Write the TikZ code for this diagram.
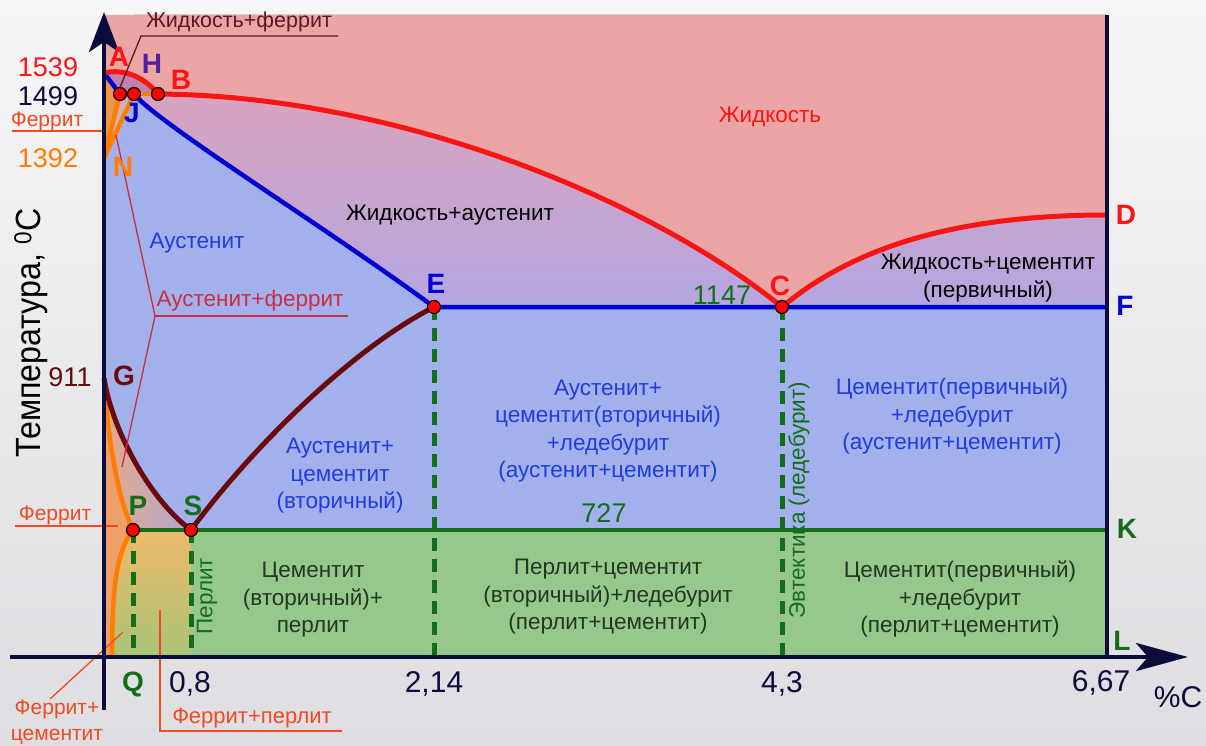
\documentclass[tikz,border=0pt]{standalone}
\usepackage{fontspec}
\setmainfont{Liberation Sans}
\usetikzlibrary{arrows.meta}
\definecolor{bgtop}{RGB}{246,246,247}
\definecolor{bgbot}{RGB}{222,222,226}
\definecolor{axisc}{RGB}{12,12,60}
\definecolor{liqred}{RGB}{250,20,20}
\definecolor{solblue}{RGB}{0,0,210}
\definecolor{maroonc}{RGB}{105,10,15}
\definecolor{dgreen}{RGB}{20,110,25}
\definecolor{orangeL}{RGB}{255,125,0}
\definecolor{pinkR}{RGB}{236,165,165}
\definecolor{blueR}{RGB}{162,176,235}
\definecolor{greenR}{RGB}{150,200,140}
\definecolor{mixtop}{RGB}{230,162,178}
\definecolor{mixbot}{RGB}{180,166,224}
\definecolor{fpTop}{RGB}{238,186,105}
\definecolor{fpBot}{RGB}{168,196,120}
\definecolor{agL}{RGB}{228,170,135}
\definecolor{agR}{RGB}{175,166,212}
\definecolor{ferrC}{RGB}{238,160,105}
\definecolor{deltaC}{RGB}{240,150,70}
\definecolor{hjnC}{RGB}{205,180,185}
\definecolor{lfC}{RGB}{190,130,172}
\definecolor{txtblue}{RGB}{35,60,225}
\definecolor{txtdark}{RGB}{35,55,35}
\definecolor{txtred}{RGB}{240,75,35}
\definecolor{afred}{RGB}{205,45,65}
\definecolor{lfmaroon}{RGB}{100,20,40}
\definecolor{hpurple}{RGB}{85,30,160}
\begin{document}
\begin{tikzpicture}[x=1pt,y=-1pt,
  txt/.style={font=\fontsize{22.5}{27.5}\selectfont, align=center, inner sep=0pt},
  stxt/.style={font=\fontsize{21}{26}\selectfont, align=center, inner sep=0pt},
  lbl/.style={font=\fontsize{28}{30}\selectfont\bfseries, inner sep=0pt},
  num/.style={font=\fontsize{27}{30}\selectfont, inner sep=0pt},
  axnum/.style={font=\fontsize{30}{32}\selectfont, inner sep=0pt, text=axisc},
  ornL/.style={draw=orangeL, line width=4.5pt},
  bluL/.style={draw=solblue, line width=4.5pt},
  redL/.style={draw=liqred, line width=5pt},
  marL/.style={draw=maroonc, line width=5pt},
  grnL/.style={draw=dgreen, line width=4.5pt},
  dashL/.style={draw=dgreen, line width=5pt, dash pattern=on 13pt off 8pt},
  axisL/.style={draw=axisc, line width=4.5pt},
  leader/.style={line width=1.3pt},
  dot/.style={circle, fill=red, draw=black, line width=1.2pt, minimum size=13pt, inner sep=0pt}
]
\useasboundingbox (0,0) rectangle (1206,746);
\fill[top color=bgtop,bottom color=bgbot] (0,0) rectangle (1206,746);

% key points
\coordinate (A) at (104,73);
\coordinate (H) at (120,94);
\coordinate (J) at (134,94);
\coordinate (B) at (158,94);
\coordinate (N) at (104,158);
\coordinate (E) at (434,307);
\coordinate (C) at (782,307);
\coordinate (D) at (1107,215);
\coordinate (F) at (1107,307);
\coordinate (G) at (104,378);
\coordinate (P) at (133,530);
\coordinate (S) at (191,530);
\coordinate (K) at (1107,530);
\coordinate (L) at (1107,657);
\coordinate (Q) at (112,657);
\coordinate (O) at (104,657);
\coordinate (E0) at (434,657);
\coordinate (C0) at (782,657);
\coordinate (P0) at (133,657);
\coordinate (S0) at (191,657);
\coordinate (TL) at (104,15);
\coordinate (TR) at (1107,15);
\coordinate (G727) at (104,530);

% region fills
\fill[blueR] (TL) rectangle (L);
\fill[top color=mixtop,bottom color=mixbot] (J) .. controls (160,125) and (330,230) .. (E) -- (F) -- (TR) -- (134,15) -- cycle;
\fill[pinkR] (TL) -- (A) .. controls (125,68) and (145,78) .. (B) .. controls (400,96) and (650,200) .. (C) .. controls (850,250) and (950,215) .. (D) -- (TR) -- cycle;
\fill[greenR] (G727) rectangle (L);
\fill[top color=fpTop,bottom color=fpBot] (G727) rectangle (S0);
\fill[left color=agL,right color=agR] (G) .. controls (108,440) and (118,500) .. (P) -- (S) .. controls (150,500) and (112,430) .. (G);
\fill[ferrC] (G) .. controls (108,440) and (118,500) .. (P) .. controls (118,550) and (112,580) .. (Q) -- (O) -- cycle;
\fill[deltaC] (A) -- (H) -- (N) -- cycle;
\fill[hjnC] (H) -- (J) -- (N) -- cycle;
\fill[lfC] (A) .. controls (125,68) and (145,78) .. (B) -- (H) -- cycle;

% phase lines
\draw[ornL] (H) -- (N);
\draw[ornL] (J) -- (N);
\draw[ornL] (H) -- (B);
\draw[ornL] (G) .. controls (108,440) and (118,500) .. (P) .. controls (118,550) and (112,580) .. (Q);
\draw[bluL] (A) -- (H);
\draw[bluL] (J) .. controls (160,125) and (330,230) .. (E) -- (F);
\draw[redL] (A) .. controls (125,68) and (145,78) .. (B) .. controls (400,96) and (650,200) .. (C) .. controls (850,250) and (950,215) .. (D);
\draw[marL] (G) .. controls (112,430) and (150,500) .. (S) .. controls (250,450) and (350,350) .. (E);
\draw[grnL] (P) -- (K);
\draw[dashL] (E) -- (E0);
\draw[dashL] (C) -- (C0);
\draw[dashL] (P) -- (P0);
\draw[dashL] (S) -- (S0);

% leaders
\coordinate (lf1) at (119,90);
\coordinate (lf2) at (141,36);
\coordinate (lf3) at (338,36);
\draw[leader, lfmaroon] (lf1) -- (lf2) -- (lf3);
\coordinate (af1) at (116,135);
\coordinate (af2) at (155,316);
\coordinate (af3) at (122,467);
\coordinate (af4) at (348,316);
\draw[leader, afred] (af1) -- (af2) -- (af3);
\draw[leader, afred] (af2) -- (af4);
\coordinate (fu1) at (12,131);
\coordinate (fu2) at (102,131);
\draw[leader, txtred] (fu1) -- (fu2);
\coordinate (fl1) at (15,526);
\coordinate (fl2) at (118,526);
\draw[leader, txtred] (fl1) -- (fl2);
\coordinate (fc1) at (50,699);
\coordinate (fc2) at (123,632);
\draw[leader, txtred] (fc1) -- (fc2);
\coordinate (fp1) at (160,610);
\coordinate (fp2) at (160,731);
\coordinate (fp3) at (342,731);
\draw[leader, txtred] (fp1) -- (fp2) -- (fp3);

% right border and axes
\draw[axisL] (TR) -- (L);
\coordinate (ybot) at (104,710);
\coordinate (ytop) at (104,12);
\coordinate (xl) at (10,657);
\coordinate (xr) at (1188,657);
\draw[axisL, -{Stealth[length=40pt,width=30pt,inset=10pt]}] (ybot) -- (ytop);
\draw[axisL, -{Stealth[length=52pt,width=28pt,inset=12pt]}] (xl) -- (xr);

% points
\foreach \p in {H,J,B,E,C,P,S} \node[dot] (d\p) at (\p) {};

% point labels
\node[lbl, text=liqred] (lA) at (119,57) {A};
\node[lbl, text=hpurple] (lH) at (152,64) {H};
\node[lbl, text=liqred] (lB) at (181,80) {B};
\node[lbl, text=solblue] (lJ) at (132,113) {J};
\node[lbl, text=orangeL] (lN) at (123,167) {N};
\node[lbl, text=maroonc] (lG) at (124,376) {G};
\node[lbl, text=dgreen] (lP) at (138,506) {P};
\node[lbl, text=dgreen] (lS) at (193,506) {S};
\node[lbl, text=solblue] (lE) at (436,284) {E};
\node[lbl, text=liqred] (lC) at (780,286) {C};
\node[lbl, text=liqred] (lD) at (1126,215) {D};
\node[lbl, text=solblue] (lF) at (1125,306) {F};
\node[lbl, text=dgreen] (lK) at (1127,529) {K};
\node[lbl, text=dgreen] (lL) at (1122,641) {L};
\node[lbl, text=dgreen] (lQ) at (133,684) {Q};

% temperatures
\node[num, text=liqred] (t1539) at (48,67) {1539};
\node[num, text=axisc] (t1499) at (48,96) {1499};
\node[num, text=orangeL] (t1392) at (48,158) {1392};
\node[num, text=maroonc] (t911) at (70,377) {911};
\node[num, text=dgreen] (t1147) at (722,295) {1147};
\node[num, text=dgreen] (t727) at (604,513) {727};

% axis labels
\node[axnum] (x08) at (190,684) {0,8};
\node[axnum] (x214) at (434,684) {2,14};
\node[axnum] (x43) at (782,684) {4,3};
\node[axnum] (x667) at (1101,683) {6,67};
\node[axnum] (xpc) at (1178,697) {\%C};
\node[inner sep=0pt, rotate=90, font=\fontsize{35}{38}\selectfont] (ylab) at (31,333) {\scalebox{0.92}[1]{Температура, \textsuperscript{0}С}};

% small labels
\node[stxt, text=lfmaroon, font=\fontsize{21.5}{25}\selectfont] (tlf) at (239,22) {Жидкость+феррит};
\node[stxt, text=txtred] (tfu) at (47,121) {Феррит};
\node[stxt, text=txtred] (tfl) at (55,515) {Феррит};
\node[txt, text=afred] (taf) at (250,301) {Аустенит+феррит};
\node[stxt, text=txtred] (tfc) at (57,722) {Феррит+\\цементит};
\node[stxt, text=txtred, font=\fontsize{22}{26}\selectfont] (tfp) at (252,718) {Феррит+перлит};

% region labels
\node[txt, text=liqred] (tL) at (770,117) {Жидкость};
\node[txt, text=black] (tLA) at (450,215) {Жидкость+аустенит};
\node[txt, text=txtblue] (tA) at (197,243) {Аустенит};
\node[txt, text=black] (tLC) at (988,278) {Жидкость+цементит\\(первичный)};
\node[txt, text=txtblue] (tb1) at (340,476) {Аустенит+\\цементит\\(вторичный)};
\node[txt, text=txtblue] (tb2) at (608,431) {Аустенит+\\цементит(вторичный)\\+ледебурит\\(аустенит+цементит)};
\node[txt, text=txtblue] (tb3) at (952,416) {Цементит(первичный)\\+ледебурит\\(аустенит+цементит)};
\node[txt, text=txtdark] (tg1) at (313,600) {Цементит\\(вторичный)+\\перлит};
\node[txt, text=txtdark] (tg2) at (608,597) {Перлит+цементит\\(вторичный)+ледебурит\\(перлит+цементит)};
\node[txt, text=txtdark] (tg3) at (960,599) {Цементит(первичный)\\+ледебурит\\(перлит+цементит)};
\node[txt, text=dgreen, rotate=90] (tperl) at (207,596) {Перлит};
\node[txt, text=dgreen, rotate=90] (teut) at (799,500) {Эвтектика (ледебурит)};
\end{tikzpicture}
\end{document}
